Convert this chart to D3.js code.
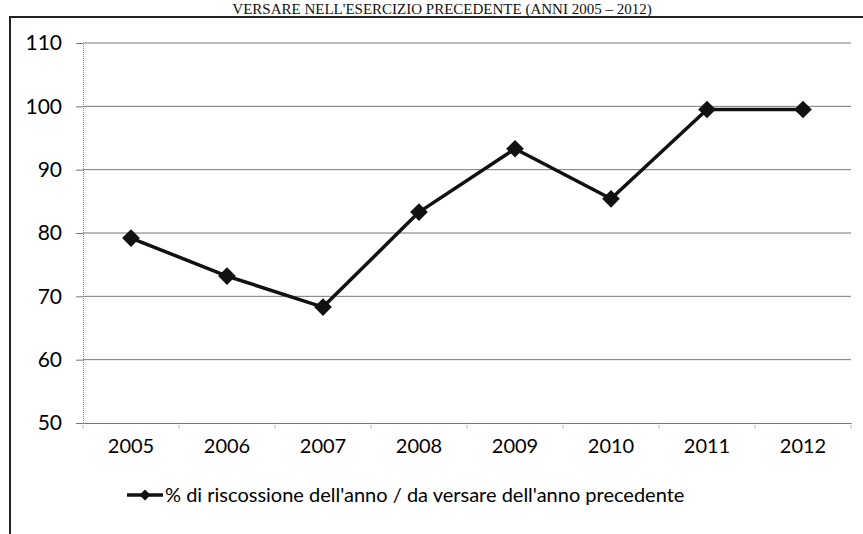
<!DOCTYPE html>
<html>
<head>
<meta charset="utf-8">
<script src="https://cdn.jsdelivr.net/npm/d3@7"></script>
<style>
  body { margin: 0; background: #fff; }
  svg { display: block; }
</style>
</head>
<body>
<svg width="863" height="534"></svg>
<script>
const years = ["2005", "2006", "2007", "2008", "2009", "2010", "2011", "2012"];
const values = [79.2, 73.2, 68.3, 83.3, 93.3, 85.4, 99.5, 99.5];
const yTicks = [50, 60, 70, 80, 90, 100, 110];
const seriesName = "% di riscossione dell'anno / da versare dell'anno precedente";
const title = "VERSARE NELL'ESERCIZIO PRECEDENTE (ANNI 2005 \u2013 2012)";

const svg = d3.select("svg");
const font = "Lato, 'Open Sans', sans-serif";

const x = d3.scaleBand().domain(years).range([83, 851]);
const y = d3.scaleLinear().domain([50, 110]).range([423, 43]);

// title, just above the frame
svg.append("text")
  .attr("x", 442).attr("y", 14)
  .attr("text-anchor", "middle")
  .attr("font-family", "'Liberation Serif', serif")
  .attr("font-size", 15)
  .attr("fill", "#111")
  .text(title);

// chart frame
svg.append("path")
  .attr("d", "M10,534V17H863")
  .attr("fill", "none")
  .attr("stroke", "#222")
  .attr("stroke-width", 2);

// gridlines
svg.append("g")
  .selectAll("line")
  .data(yTicks.filter(d => d > 50))
  .join("line")
  .attr("x1", 83).attr("x2", 851)
  .attr("y1", d => y(d)).attr("y2", d => y(d))
  .attr("stroke", "#777")
  .attr("stroke-width", 1);

// y axis
const yAxis = svg.append("g")
  .attr("transform", "translate(83,0)")
  .call(d3.axisLeft(y).tickValues(yTicks).tickSize(7).tickPadding(14));
yAxis.select(".domain").attr("stroke", "#888").attr("stroke-dasharray", "1,1");
yAxis.selectAll(".tick line").attr("stroke", "#777");
yAxis.selectAll("text")
  .attr("font-family", font).attr("font-size", 21).attr("fill", "#000");

// x axis
const xAxis = svg.append("g")
  .attr("transform", "translate(0,423)")
  .call(d3.axisBottom(x).tickSize(0).tickPadding(16));
xAxis.select(".domain").attr("stroke", "#777");
xAxis.selectAll("text")
  .attr("font-family", font).attr("font-size", 20).attr("fill", "#000");
svg.append("g")
  .selectAll("line")
  .data(years.concat(["end"]))
  .join("line")
  .attr("x1", (d, i) => 83 + i * x.step()).attr("x2", (d, i) => 83 + i * x.step())
  .attr("y1", 423).attr("y2", 429)
  .attr("stroke", "#888")
  .attr("stroke-dasharray", "1,1");

// series line
const cx = d => x(d) + x.bandwidth() / 2;
svg.append("path")
  .datum(values)
  .attr("fill", "none")
  .attr("stroke", "#111")
  .attr("stroke-width", 3.5)
  .attr("stroke-linejoin", "round")
  .attr("d", d3.line().x((d, i) => cx(years[i])).y(d => y(d)));

const diamond = d3.symbol().type(d3.symbolDiamond2).size(200);
svg.append("g")
  .selectAll("path")
  .data(values)
  .join("path")
  .attr("transform", (d, i) => `translate(${cx(years[i])},${y(d)})`)
  .attr("d", diamond)
  .attr("fill", "#111");

// legend
const lg = svg.append("g").attr("transform", "translate(127,495)");
lg.append("line").attr("x1", 0).attr("x2", 36).attr("stroke", "#111").attr("stroke-width", 3.5);
lg.append("path").attr("transform", "translate(18,0)")
  .attr("d", d3.symbol().type(d3.symbolDiamond2).size(80)).attr("fill", "#111");
lg.append("text")
  .attr("x", 38).attr("y", 7)
  .attr("font-family", font).attr("font-size", 20).attr("fill", "#000")
  .text(seriesName);
</script>
</body>
</html>
